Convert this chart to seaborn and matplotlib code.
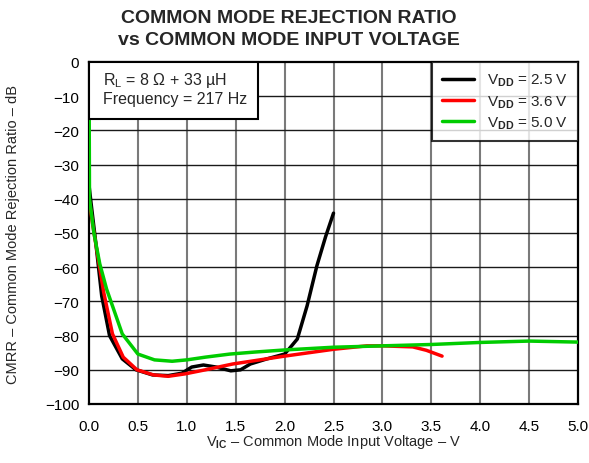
import matplotlib
matplotlib.use("Agg")
import matplotlib.pyplot as plt
from matplotlib.patches import Rectangle
import seaborn as sns
import pandas as pd
import numpy as np

# ---- data ----
x_25 = [0.0, 0.02, 0.07, 0.13, 0.21, 0.34, 0.48, 0.65, 0.81, 0.95, 1.05, 1.17, 1.30, 1.45, 1.55, 1.65, 1.82, 2.00, 2.06, 2.13, 2.23, 2.33, 2.42, 2.50]
y_25 = [-36, -41, -53, -68.4, -80, -86.8, -90, -91.5, -91.7, -91.0, -89.2, -88.6, -89.2, -90.3, -90.0, -88.3, -86.8, -85.4, -83.4, -81, -71.3, -59.6, -51, -44.2]

x_36 = [0.0, 0.04, 0.08, 0.15, 0.24, 0.35, 0.49, 0.66, 0.81, 0.98, 1.19, 1.47, 2.00, 2.50, 2.84, 3.00, 3.31, 3.45, 3.61]
y_36 = [-40, -48, -55, -67.3, -79.5, -86.3, -90, -91.5, -91.9, -91.2, -90, -88.3, -86, -84, -83, -83, -83.3, -84.3, -86]

x_50 = [0.0, 0.005, 0.05, 0.11, 0.18, 0.34, 0.50, 0.67, 0.85, 1.00, 1.19, 1.44, 1.70, 2.00, 2.50, 3.00, 3.50, 4.00, 4.50, 5.00]
y_50 = [0, -40, -50, -59, -66.4, -79.5, -85.4, -87.1, -87.5, -87.1, -86.3, -85.4, -84.8, -84.2, -83.4, -83.0, -82.6, -82.0, -81.6, -81.9]

series_labels = [r"V$_{\mathbf{DD}}$ = 2.5 V", r"V$_{\mathbf{DD}}$ = 3.6 V", r"V$_{\mathbf{DD}}$ = 5.0 V"]
series_colors = ["#000000", "#ff0000", "#00cc00"]

x_ticks = [0.0, 0.5, 1.0, 1.5, 2.0, 2.5, 3.0, 3.5, 4.0, 4.5, 5.0]
y_ticks = [0, -10, -20, -30, -40, -50, -60, -70, -80, -90, -100]

title = "COMMON MODE REJECTION RATIO\nvs COMMON MODE INPUT VOLTAGE"
xlabel = r"V$_{\mathbf{IC}}$ – Common Mode Input Voltage – V"
ylabel = "CMRR – Common Mode Rejection Ratio – dB"
note_lines = [r"R$_{\mathrm{L}}$ = 8 Ω + 33 µH", "Frequency = 217 Hz"]

frames = []
for xs, ys, lab in zip([x_25, x_36, x_50], [y_25, y_36, y_50], series_labels):
    frames.append(pd.DataFrame({"x": xs, "y": ys, "series": lab}))
df = pd.concat(frames, ignore_index=True)

sns.set_style("white")
plt.rcParams["font.family"] = ["Liberation Sans", "DejaVu Sans"]
plt.rcParams["mathtext.fontset"] = "custom"
plt.rcParams["mathtext.rm"] = "Liberation Sans"
plt.rcParams["mathtext.it"] = "Liberation Sans:italic"
plt.rcParams["mathtext.bf"] = "Liberation Sans:bold"

fig = plt.figure(figsize=(5.89, 4.64), dpi=100)
ax = fig.add_axes([89/589, 1-405/464, (578-89)/589, (405-63)/464])

sns.lineplot(data=df, x="x", y="y", hue="series", hue_order=series_labels,
             palette=dict(zip(series_labels, series_colors)), sort=False,
             estimator=None, linewidth=2.5, ax=ax, zorder=3)

ax.set_xlim(0, 5.0)
ax.set_ylim(-100, 0)
ax.set_xticks(x_ticks)
ax.set_xticklabels([f"{v:.1f}" for v in x_ticks])
ax.set_yticks(y_ticks)
ax.tick_params(axis="both", length=0, labelsize=11, colors="black")
ax.tick_params(axis="x", pad=11)
ax.tick_params(axis="y", pad=7)

for xv in x_ticks[1:-1]:
    ax.axvline(xv, color="#7a7a7a", lw=1.5, zorder=1)
for yv in y_ticks[1:-1]:
    ax.axhline(yv, color="#1a1a1a", lw=1.0, zorder=1)

for sp in ax.spines.values():
    sp.set_color("black")
    sp.set_linewidth(1.6)
    sp.set_visible(True)

ax.set_xlabel(xlabel, fontsize=10.5, labelpad=-1)
ax.set_ylabel("")
fig.text(13/589, 1-234/464, ylabel, rotation=90, fontsize=10.5, ha="center", va="center")
fig.text(0.49, 1-10/464, title, fontsize=14, fontweight="bold", ha="center", va="top",
         linespacing=1.35)

# annotation box
bw = (258-89)/489
bh = (120-63)/342
ax.add_patch(Rectangle((0, 1-bh), bw, bh, transform=ax.transAxes,
                       facecolor="white", edgecolor="black", lw=1.5, zorder=5, clip_on=False))
ax.text(0.029, 0.950, note_lines[0], transform=ax.transAxes, fontsize=11.5,
        va="center", ha="left", zorder=6)
ax.text(0.029, 0.892, note_lines[1], transform=ax.transAxes, fontsize=11.5,
        va="center", ha="left", zorder=6)

leg = ax.legend(loc="upper right", borderaxespad=0, fancybox=False, frameon=True,
                fontsize=11, handlelength=2.1, handletextpad=0.85, labelspacing=0.32,
                borderpad=0.65, title=None)
leg.get_frame().set_edgecolor("black")
leg.get_frame().set_linewidth(1.5)
leg.set_zorder(6)
for line in leg.get_lines():
    line.set_linewidth(2.5)

fig.savefig("out.png", dpi=100)
